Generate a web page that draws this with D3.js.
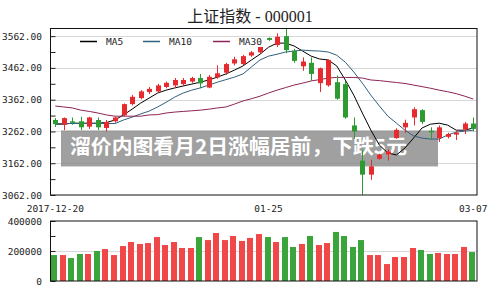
<!DOCTYPE html>
<html>
<head>
<meta charset="utf-8">
<script src="https://cdn.jsdelivr.net/npm/d3@7.9.0/dist/d3.min.js"></script>
<style>
  body { margin: 0; background: #fff; }
  svg { display: block; }
  .tick text { font-family: "DejaVu Sans Mono", monospace; font-size: 9.5px; fill: #222; }
</style>
</head>
<body>
<svg id="chart" width="500" height="300"></svg>
<script>
// daily candles, 2017-12-20 .. 2018-03-07
const opens  = [3298,3283,3294,3294,3277,3298,3273,3294,3313,3348,3367,3386,3388,3402,3407,3411,3419,3430,3400,3432,3447,3476,3474,3501,3511,3556,3534,3562,3516,3467,3478,3414,3407,3417,3411,3281,3170,3126,3176,3189,3241,3275,3306,3329,3264,3241,3245,3252,3268,3287];
const closes = [3285,3304,3291,3275,3306,3275,3292,3306,3348,3371,3388,3396,3407,3415,3424,3424,3430,3413,3434,3445,3474,3489,3499,3511,3545,3550,3560,3518,3484,3482,3443,3461,3487,3365,3306,3262,3126,3152,3189,3199,3267,3289,3332,3292,3260,3275,3254,3258,3287,3270];
const highs  = [3304,3306,3306,3308,3308,3306,3298,3308,3350,3377,3392,3402,3412,3419,3430,3430,3434,3443,3440,3470,3478,3497,3503,3515,3550,3558,3571,3587,3522,3495,3495,3463,3489,3438,3421,3306,3204,3173,3192,3206,3272,3299,3338,3332,3275,3281,3258,3266,3292,3306];
const lows   = [3276,3266,3283,3266,3270,3266,3262,3290,3310,3344,3363,3380,3384,3398,3398,3405,3415,3398,3398,3428,3440,3470,3470,3497,3508,3547,3528,3508,3478,3453,3421,3386,3403,3362,3302,3239,3063,3110,3173,3170,3239,3257,3281,3285,3237,3229,3240,3235,3254,3262];
const volumes = [173,173,153,180,180,200,213,173,233,260,247,253,293,240,260,220,220,293,273,320,273,300,267,287,313,293,260,293,227,247,300,240,253,327,300,227,273,173,173,113,160,160,220,207,180,187,180,180,227,193].map(v => v * 1000);

const ma5  = [3285,3285,3288,3288,3288,3288,3290,3298,3314,3332,3351,3367,3383,3392,3399,3405,3411,3417,3424,3433,3443,3455,3468,3487,3505,3527,3540,3540,3531,3515,3499,3490,3487,3468,3424,3376,3320,3266,3219,3194,3188,3210,3241,3273,3285,3288,3282,3266,3266,3273];
const ma10 = [3287,3287,3287,3287,3287,3287,3287,3287,3298,3307,3317,3326,3339,3354,3370,3383,3392,3399,3408,3417,3425,3433,3443,3465,3487,3499,3505,3512,3515,3518,3516,3515,3512,3502,3480,3449,3414,3376,3342,3310,3288,3266,3248,3241,3238,3238,3251,3260,3263,3266];
const ma30 = [3342,3339,3336,3329,3325,3320,3314,3310,3310,3310,3310,3314,3315,3320,3323,3325,3327,3329,3332,3336,3339,3348,3358,3365,3373,3383,3392,3400,3408,3414,3421,3425,3430,3432,3432,3432,3430,3424,3422,3419,3416,3413,3408,3403,3398,3392,3387,3381,3373,3364];

const priceTicks = [3062, 3162, 3262, 3362, 3462, 3562];
const priceMinor = [3112, 3212, 3312, 3412, 3512];
const volTicks = [0, 200000, 400000];
const volMinor = [100000, 300000];
const dateTickIdx = [0, 25, 49];
const dateTickText = ['2017-12-20', '01-25', '03-07'];
const maNames = ['MA5', 'MA10', 'MA30'];
const headline = '溜价内图看月2日涨幅居前，下跌5元';

const RED = '#e62a2e', GREEN = '#2e9a32';
const RED_VOL = '#f04848', GREEN_VOL = '#3aa53a';
const maColors = ['#000000', '#30607e', '#8c2455'];

const plot = { left: 50.5, right: 477, top: 28.5, bottom: 195 };
const volArea = { top: 221, bottom: 281 };

const svg = d3.select('#chart');
const idx = d3.range(opens.length);

const x = d3.scaleBand().domain(idx).range([51, 477.5]);
const xc = i => x(i) + x.bandwidth() / 2;
const y = d3.scaleLinear().domain([3062, 3586]).range([plot.bottom, plot.top]);
const yv = d3.scaleLinear().domain([0, 400000]).range([volArea.bottom, volArea.top]);

// title
const title = svg.append('text')
  .attr('x', 250).attr('y', 22)
  .attr('text-anchor', 'middle')
  .attr('font-size', 16)
  .attr('fill', '#222');
title.append('tspan').attr('font-family', '"Noto Sans CJK SC", sans-serif').text('上证指数');
title.append('tspan').attr('font-family', '"Liberation Serif", serif').text(' - 000001');

// gridlines
svg.append('g')
  .selectAll('line')
  .data(priceTicks.slice(1))
  .join('line')
  .attr('x1', plot.left).attr('x2', plot.right)
  .attr('y1', d => Math.round(y(d)) + 0.5).attr('y2', d => Math.round(y(d)) + 0.5)
  .attr('stroke', '#d8d8d8');

svg.append('line')
  .attr('x1', plot.left).attr('x2', plot.right)
  .attr('y1', Math.round(yv(200000)) + 0.5).attr('y2', Math.round(yv(200000)) + 0.5)
  .attr('stroke', '#d8d8d8');

// axes
const pa = svg.append('g')
  .attr('transform', `translate(${plot.left},0)`)
  .call(d3.axisLeft(y).tickValues(priceTicks).tickFormat(d3.format('.2f')).tickSizeInner(-5).tickSizeOuter(0).tickPadding(8.5));
svg.append('g')
  .attr('transform', `translate(${plot.left},0)`)
  .call(d3.axisLeft(y).tickValues(priceMinor).tickFormat('').tickSizeInner(-5).tickSizeOuter(0));

svg.append('g')
  .attr('transform', `translate(${plot.left},0)`)
  .call(d3.axisLeft(yv).tickValues(volTicks).tickFormat(d3.format('d')).tickSizeInner(-5).tickSizeOuter(0).tickPadding(8.5));
svg.append('g')
  .attr('transform', `translate(${plot.left},0)`)
  .call(d3.axisLeft(yv).tickValues(volMinor).tickFormat('').tickSizeInner(-5).tickSizeOuter(0));

svg.selectAll('.domain').remove();
svg.selectAll('.tick line').attr('stroke', '#222');

// date labels
svg.append('g')
  .selectAll('text')
  .data(dateTickIdx)
  .join('text')
  .attr('x', d => xc(d))
  .attr('y', 212)
  .attr('text-anchor', 'middle')
  .attr('font-family', '"DejaVu Sans Mono", monospace')
  .attr('font-size', 9.5)
  .attr('fill', '#222')
  .text((d, i) => dateTickText[i]);

// headline banner
svg.append('rect')
  .attr('x', 61).attr('y', y(3262) - 1)
  .attr('width', 377).attr('height', 36)
  .attr('fill', '#8f8f8f')
  .attr('fill-opacity', 0.85);
svg.append('text')
  .attr('x', 70).attr('y', y(3262) + 23)
  .attr('font-family', '"Noto Sans CJK SC", sans-serif')
  .attr('font-weight', 'bold')
  .attr('font-size', 20)
  .attr('fill', '#fff')
  .attr('textLength', 337)
  .attr('lengthAdjust', 'spacingAndGlyphs')
  .text(headline);

// moving averages
const line = d3.line().x((d, i) => xc(i)).y(d => y(d));
[ma5, ma10, ma30].forEach((s, k) => {
  svg.append('path')
    .datum(s)
    .attr('d', line)
    .attr('fill', 'none')
    .attr('stroke', maColors[k])
    .attr('stroke-width', 1);
});

// candles
const up = i => closes[i] >= opens[i];
const candles = svg.append('g').selectAll('g').data(idx).join('g');
candles.append('line')
  .attr('x1', i => Math.round(xc(i)) + 0.5).attr('x2', i => Math.round(xc(i)) + 0.5)
  .attr('y1', i => y(highs[i])).attr('y2', i => y(lows[i]))
  .attr('stroke', i => up(i) ? RED : GREEN);
candles.append('rect')
  .attr('x', i => Math.round(xc(i)) - 2)
  .attr('width', 5)
  .attr('y', i => y(Math.max(opens[i], closes[i])))
  .attr('height', i => Math.max(1.5, Math.abs(y(opens[i]) - y(closes[i]))))
  .attr('fill', i => up(i) ? RED : GREEN);

// volume bars
svg.append('g')
  .selectAll('rect')
  .data(idx)
  .join('rect')
  .attr('x', i => Math.round(xc(i)) - 4)
  .attr('width', 6)
  .attr('y', i => yv(volumes[i]))
  .attr('height', i => yv(0) - yv(volumes[i]))
  .attr('fill', i => up(i) ? RED_VOL : GREEN_VOL);

// legend
const legendX = [80, 143, 213];
const lg = svg.append('g');
lg.append('rect')
  .attr('x', 76).attr('y', 37).attr('width', 187).attr('height', 10)
  .attr('fill', '#fff');
maNames.forEach((name, k) => {
  lg.append('line')
    .attr('x1', legendX[k]).attr('x2', legendX[k] + 17)
    .attr('y1', 41.5).attr('y2', 41.5)
    .attr('stroke', maColors[k]).attr('stroke-width', 1.5);
  lg.append('text')
    .attr('x', legendX[k] + 26).attr('y', 45)
    .attr('font-family', '"DejaVu Sans Mono", monospace')
    .attr('font-size', 9.5)
    .attr('fill', '#222')
    .text(name);
});

// panel borders
svg.append('rect')
  .attr('x', plot.left).attr('y', plot.top)
  .attr('width', plot.right - plot.left).attr('height', plot.bottom - plot.top)
  .attr('fill', 'none').attr('stroke', '#111');
svg.append('rect')
  .attr('x', plot.left).attr('y', volArea.top)
  .attr('width', plot.right - plot.left).attr('height', volArea.bottom - volArea.top)
  .attr('fill', 'none').attr('stroke', '#111');
</script>
</body>
</html>
